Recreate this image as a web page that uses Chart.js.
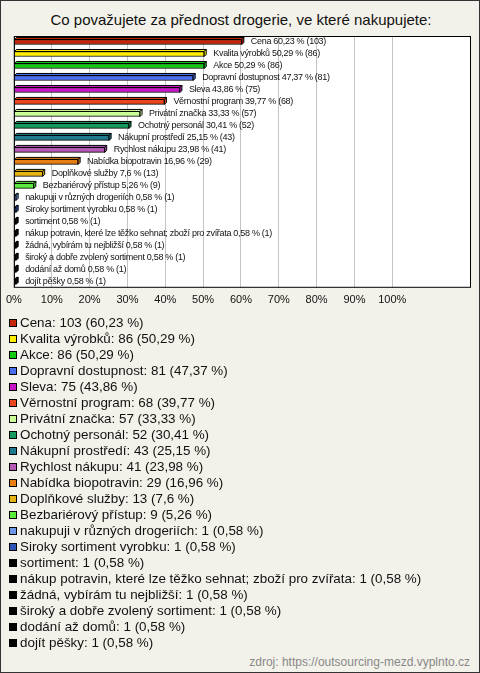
<!DOCTYPE html>
<html>
<head>
<meta charset="utf-8">
<script src="https://cdn.jsdelivr.net/npm/chart.js@4"></script>
<style>
  html, body { margin: 0; padding: 0; }
  body { width: 480px; height: 673px; overflow: hidden; }
  #frame {
    position: relative; box-sizing: border-box; width: 480px; height: 673px;
    background: #f3f2ea; border: 1px solid #333; font-family: Arial, "Liberation Sans", sans-serif;
  }
  #title {
    position: absolute; left: 0; top: 10px; width: 480px; text-align: center;
    font-size: 15px; color: #111;
  }
  #chartBox { position: absolute; left: -1px; top: -1px; width: 480px; height: 317px; }
  #legend { position: absolute; left: 8px; top: 314px; font-size: 13.4px; color: #111; }
  .item { height: 16px; line-height: 16px; white-space: nowrap; }
  .sw {
    display: inline-block; box-sizing: border-box; width: 8px; height: 8px;
    border: 1px solid #000; margin-right: 3px; vertical-align: 0px;
  }
  #source {
    position: absolute; right: 9px; top: 654px; font-size: 12px; color: #888;
  }
</style>
</head>
<body>
<div id="frame">
  <div id="title">Co považujete za přednost drogerie, ve které nakupujete:</div>
  <div id="chartBox"><canvas id="bars" width="480" height="317"></canvas></div>
  <div id="legend"></div>
  <div id="source">zdroj: https://outsourcing-mezd.vyplnto.cz</div>
</div>
<script>
const labels = [
  'Cena', 'Kvalita výrobků', 'Akce', 'Dopravní dostupnost', 'Sleva',
  'Věrnostní program', 'Privátní značka', 'Ochotný personál', 'Nákupní prostředí',
  'Rychlost nákupu', 'Nabídka biopotravin', 'Doplňkové služby', 'Bezbariérový přístup',
  'nakupuji v různých drogeriích', 'Siroky sortiment vyrobku', 'sortiment',
  'nákup potravin, které lze těžko sehnat; zboží pro zvířata',
  'žádná, vybírám tu nejbližší', 'široký a dobře zvolený sortiment',
  'dodání až domů', 'dojít pěšky'
];
const counts   = [103, 86, 86, 81, 75, 68, 57, 52, 43, 41, 29, 13, 9, 1, 1, 1, 1, 1, 1, 1, 1];
const percents = [60.23, 50.29, 50.29, 47.37, 43.86, 39.77, 33.33, 30.41, 25.15, 23.98,
                  16.96, 7.6, 5.26, 0.58, 0.58, 0.58, 0.58, 0.58, 0.58, 0.58, 0.58];
const colors = [
  '#c4260a', '#ffee00', '#14c814', '#4a6ef0', '#c814c8', '#e8461e', '#ccff99',
  '#159a5e', '#1e7a8c', '#b45ab4', '#e67e14', '#e6b414', '#5aeb3c', '#6e96e6',
  '#2d55b4', '#000000', '#000000', '#000000', '#000000', '#000000', '#000000'
];
const xTicks = [0, 10, 20, 30, 40, 50, 60, 70, 80, 90, 100];

const czPct = v => String(v).replace('.', ',');

// legend as plain html rows
document.getElementById('legend').innerHTML = labels.map((l, i) =>
  `<div class="item"><span class="sw" style="background:${colors[i]}"></span>${l}: ${counts[i]} (${czPct(percents[i])} %)</div>`
).join('');

const framePlugin = {
  id: 'frame',
  beforeDraw(chart) {
    const a = chart.chartArea, ctx = chart.ctx;
    ctx.save();
    ctx.fillStyle = '#fff';
    ctx.fillRect(a.left, a.top, a.right - a.left, a.bottom - a.top);
    ctx.restore();
  },
  afterDatasetsDraw(chart) {
    const ctx = chart.ctx;
    const meta = chart.getDatasetMeta(0);
    ctx.save();
    // fake 3d: top face and end cap
    meta.data.forEach((el, i) => {
      const h = el.height, top = el.y - h / 2, bot = el.y + h / 2;
      const d = 2;
      ctx.fillStyle = colors[i];
      ctx.strokeStyle = '#000';
      ctx.lineWidth = 1;
      ctx.beginPath();
      ctx.moveTo(el.base, top); ctx.lineTo(el.base + d, top - d);
      ctx.lineTo(el.x + d, top - d); ctx.lineTo(el.x, top); ctx.closePath();
      ctx.fill(); ctx.stroke();
      ctx.beginPath();
      ctx.moveTo(el.x, top); ctx.lineTo(el.x + d, top - d);
      ctx.lineTo(el.x + d, bot - d); ctx.lineTo(el.x, bot); ctx.closePath();
      ctx.fill(); ctx.stroke();
    });
    // value labels
    ctx.fillStyle = '#111';
    ctx.font = '9px Arial, "Liberation Sans", sans-serif';
    ctx.letterSpacing = '-0.3px';
    ctx.textBaseline = 'middle';
    meta.data.forEach((el, i) => {
      ctx.fillText(`${labels[i]} ${czPct(percents[i])} % (${counts[i]})`, el.x + 9, el.y);
    });
    ctx.letterSpacing = '0px';
    const a = chart.chartArea;
    ctx.strokeStyle = '#000';
    ctx.strokeRect(a.left + 0.5, a.top + 0.5, a.right - a.left - 1, a.bottom - a.top - 1);
    ctx.restore();
  }
};

new Chart(document.getElementById('bars'), {
  type: 'bar',
  data: {
    labels,
    datasets: [{
      data: percents,
      backgroundColor: colors,
      borderColor: '#000',
      borderWidth: 1,
      barThickness: 5
    }]
  },
  options: {
    indexAxis: 'y',
    responsive: false,
    animation: false,
    devicePixelRatio: 1,
    layout: { padding: { left: 12, right: 9, top: 36, bottom: 4 } },
    plugins: { legend: { display: false }, tooltip: { enabled: false } },
    scales: {
      x: {
        min: 0,
        max: 120.8,
        afterBuildTicks: axis => { axis.ticks = xTicks.map(v => ({ value: v })); },
        grid: { color: '#c4c4c4', drawTicks: false },
        border: { display: false },
        ticks: {
          padding: 6,
          color: '#111',
          font: { size: 11, family: 'Arial, "Liberation Sans", sans-serif' },
          callback: v => v + '%'
        }
      },
      y: { display: false }
    }
  },
  plugins: [framePlugin]
});
</script>
</body>
</html>
